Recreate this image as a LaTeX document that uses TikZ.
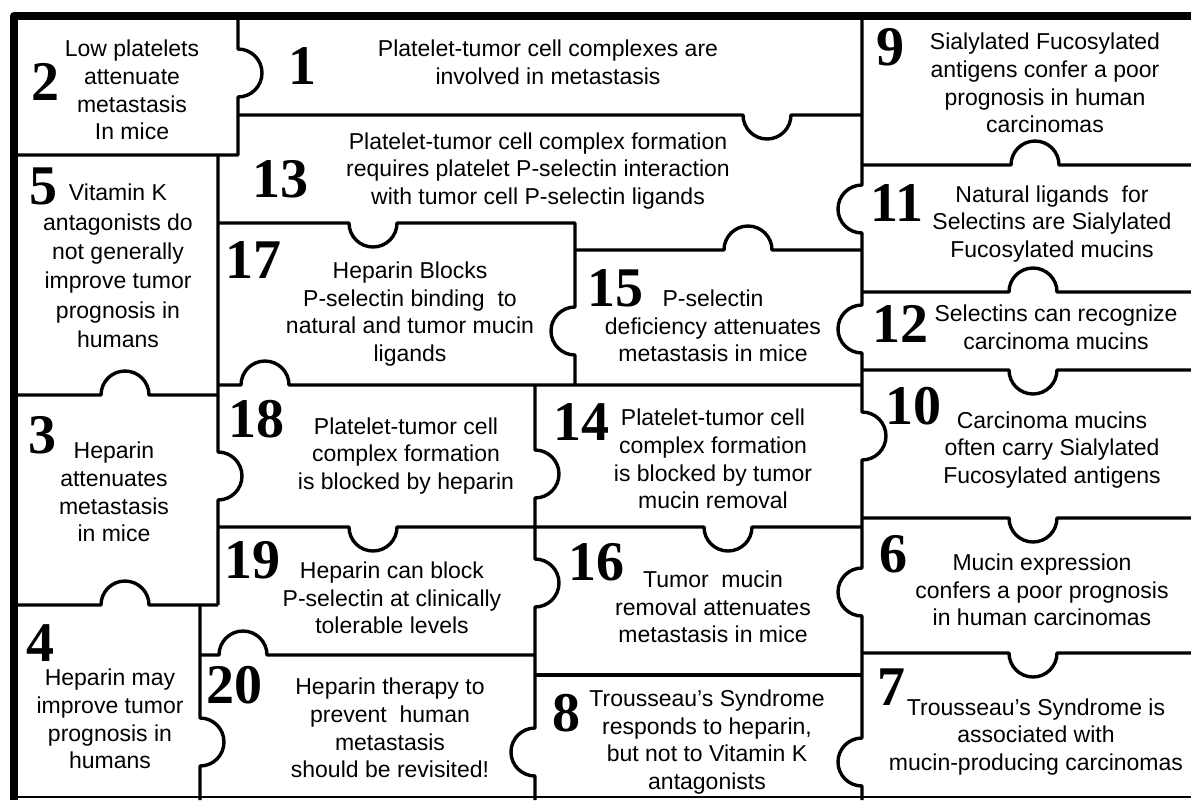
\documentclass[tikz,border=0pt]{standalone}
\usepackage{fontspec}
\setmainfont{Liberation Sans}
\newfontfamily\numfont{Liberation Serif}
\begin{document}
\begin{tikzpicture}[x=0.5pt,y=-0.5pt,line join=round]
\tikzset{
  edge/.style={line width=1.7pt},
  frame/.style={line width=4pt},
  num/.style={inner sep=0pt,font=\numfont\bfseries\fontsize{28}{28}\selectfont},
  txt/.style={inner sep=0pt,align=center,font=\fontsize{11.5}{13.8}\selectfont},
  tU/.style 2 args={insert path={-- (#1-24,#2) arc[start angle=180,end angle=0,radius=12pt]}},
  tD/.style 2 args={insert path={-- (#1-24,#2) arc[start angle=180,end angle=360,radius=12pt]}},
  tR/.style 2 args={insert path={-- (#1,#2-24) arc[start angle=90,end angle=-90,radius=12pt]}},
  tL/.style 2 args={insert path={-- (#1,#2-24) arc[start angle=90,end angle=270,radius=12pt]}},
}
\useasboundingbox (0,0) rectangle (1191,800);
% outer frame
\draw[frame] (14,800) -- (14,16) -- (1191,16);
\draw[line width=1.2pt] (14,797) -- (1191,797);
% inner edges
\draw[edge] (238,16) [tR={238}{73}] -- (238,155) -- (14,155);
\draw[edge] (238,115) [tD={767}{115}] -- (862,115);
\draw[edge] (218,155) [tR={218}{476}] -- (218,605);
\draw[edge] (14,395) [tU={125}{395}] -- (218,395);
\draw[edge] (14,605) [tU={125}{605}] -- (218,605);
\draw[edge] (200,605) [tR={200}{742}] -- (200,800);
\draw[edge] (218,223) [tD={373}{223}] -- (575,223) [tL={575}{331}] -- (575,385);
\draw[edge] (575,250) [tU={748}{250}] -- (862,250);
\draw[edge] (862,16) [tL={862}{209}] [tL={862}{329}] [tR={862}{436}] [tL={862}{592}] [tL={862}{762}] -- (862,800);
\draw[edge] (862,165) [tU={1035}{165}] -- (1191,165);
\draw[edge] (862,292) [tU={1033}{292}] -- (1191,292);
\draw[edge] (862,370) [tD={1033}{370}] -- (1191,370);
\draw[edge] (862,518) [tD={1033}{518}] -- (1191,518);
\draw[edge] (862,653) [tD={1033}{653}] -- (1191,653);
\draw[edge] (218,385) [tU={265}{385}] -- (862,385);
\draw[edge] (535,385) [tR={535}{474}] [tR={535}{583}] [tL={535}{752}] -- (535,800);
\draw[edge] (218,527) [tD={373}{527}] [tD={728}{527}] -- (862,527);
\draw[edge] (200,655) [tU={243}{655}] -- (535,655);
\draw[edge] (535,675) -- (862,675);
% numbers
\node[num] (n1) at (302,66) {1};
\node[num] (n2) at (46,82) {2};
\node[num] (n3) at (42,435) {3};
\node[num] (n4) at (40,643) {4};
\node[num] (n5) at (43,186) {5};
\node[num] (n6) at (893,554) {6};
\node[num] (n7) at (891,687) {7};
\node[num] (n8) at (566,713) {8};
\node[num] (n9) at (890,47) {9};
\node[num] (n10) at (913,406) {10};
\node[num] (n11) at (897,203) {11};
\node[num] (n12) at (900,324) {12};
\node[num] (n13) at (280,179) {13};
\node[num] (n14) at (581,422) {14};
\node[num] (n15) at (615,288) {15};
\node[num] (n16) at (596,562) {16};
\node[num] (n17) at (253,260) {17};
\node[num] (n18) at (256,419) {18};
\node[num] (n19) at (252,560) {19};
\node[num] (n20) at (234,685) {20};
% texts
\node[txt] (t1) at (548,62) {Platelet-tumor cell complexes are\\involved in metastasis};
\node[txt] (t2) at (132,90) {Low platelets\\attenuate\\metastasis\\In mice};
\node[txt] (t3) at (114,492) {Heparin\\attenuates\\metastasis\\in mice};
\node[txt] (t4) at (110,719) {Heparin may\\improve tumor\\prognosis in\\humans};
\node[txt,font=\fontsize{11.5}{14.7}\selectfont] (t5) at (118,266) {Vitamin K\\antagonists do\\not generally\\improve tumor\\prognosis in\\humans};
\node[txt] (t6) at (1042,590) {Mucin expression\\confers a poor prognosis\\in human carcinomas};
\node[txt] (t7) at (1036,737) {Trousseau’s Syndrome is\\associated with\\mucin-producing carcinomas};
\node[txt] (t8) at (707,742) {Trousseau’s Syndrome\\responds to heparin,\\but not to Vitamin K\\antagonists};
\node[txt] (t9) at (1045,83) {Sialylated Fucosylated\\antigens confer a poor\\prognosis in human\\carcinomas};
\node[txt] (t10) at (1052,450) {Carcinoma mucins\\often carry Sialylated\\Fucosylated antigens};
\node[txt] (t11) at (1052,224) {Natural ligands\ \ for\\Selectins are Sialylated\\Fucosylated mucins};
\node[txt] (t12) at (1056,327) {Selectins can recognize\\carcinoma mucins};
\node[txt] (t13) at (538,171) {Platelet-tumor cell complex formation\\requires platelet P-selectin interaction\\with tumor cell P-selectin ligands};
\node[txt] (t14) at (713,459) {Platelet-tumor cell\\complex formation\\is blocked by tumor\\mucin removal};
\node[txt] (t15) at (713,326) {P-selectin\\deficiency attenuates\\metastasis in mice};
\node[txt] (t16) at (713,607) {Tumor\ \ mucin\\removal attenuates\\metastasis in mice};
\node[txt] (t17) at (410,314) {Heparin Blocks\\P-selectin binding\ \ to\\natural and tumor mucin\\ligands};
\node[txt] (t18) at (406,456) {Platelet-tumor cell\\complex formation\\is blocked by heparin};
\node[txt] (t19) at (392,598) {Heparin can block\\P-selectin at clinically\\tolerable levels};
\node[txt] (t20) at (390,728) {Heparin therapy to\\prevent\ \ human\\metastasis\\should be revisited!};
\end{tikzpicture}
\end{document}
